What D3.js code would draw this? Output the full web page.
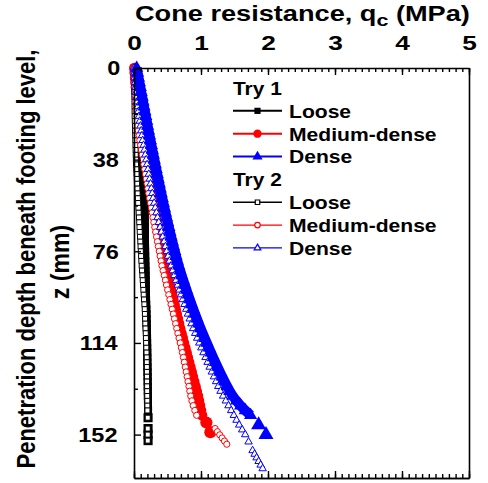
<!DOCTYPE html>
<html>
<head>
<meta charset="utf-8">
<script src="https://cdn.jsdelivr.net/npm/d3@7"></script>
<style>
  body { margin: 0; background: #fff; }
  text { font-family: Arial, "Liberation Sans", sans-serif; font-weight: bold; fill: #000; }
</style>
</head>
<body>
<svg id="chart" width="488" height="483"></svg>
<script>
// penetration depth z (mm), shared grid for the continuous part of every record
const depth = [0,2,4,6,8,10,12,14,16,18,20,22,24,26,28,30,32,34,36,38,40,42,44,46,48,50,
  52,54,56,58,60,62,64,66,68,70,72,74,76,78,80,82,84,86,88,90,92,94,96,98,100,102,104,
  106,108,110,112,114,116,118,120,122,124,126,128,130,132,134,136,138,140,142,144,146,148,150,152];

// cone resistance qc (MPa) read along each record
const try1Loose = [0.01,0.025,0.038,0.05,0.06,0.068,0.075,0.081,0.086,0.091,
  0.095,0.099,0.103,0.106,0.11,0.113,0.117,0.12,0.124,0.128,
  0.131,0.134,0.137,0.14,0.143,0.147,0.15,0.153,0.155,0.157,
  0.158,0.159,0.16,0.161,0.162,0.163,0.164,0.165,0.166,0.167,
  0.168,0.17,0.171,0.173,0.174,0.176,0.177,0.179,0.18,0.182,
  0.184,0.186,0.188,0.19,0.192,0.194,0.195,0.196,0.197,0.198,
  0.199,0.2,0.201,0.202,0.203,0.204,0.205,0.206,0.207,0.208,0.209,0.21];
const try1Medium = [0.005,0.011,0.017,0.023,0.029,0.035,0.044,0.053,0.062,0.071,
  0.08,0.089,0.098,0.107,0.119,0.131,0.143,0.156,0.168,0.181,
  0.193,0.206,0.218,0.23,0.243,0.255,0.268,0.28,0.293,0.306,
  0.319,0.333,0.346,0.36,0.373,0.387,0.4,0.413,0.427,0.44,
  0.454,0.467,0.484,0.501,0.518,0.535,0.552,0.569,0.586,0.603,
  0.62,0.637,0.654,0.671,0.688,0.707,0.726,0.745,0.764,0.783,
  0.802,0.821,0.84,0.859,0.878,0.897,0.916,0.935,0.954,0.969,0.984,0.999,1.014];
const try1Dense = [0.04,0.054,0.067,0.081,0.094,0.108,0.122,0.135,0.149,0.162,
  0.176,0.19,0.203,0.217,0.231,0.246,0.26,0.274,0.289,0.303,
  0.318,0.332,0.347,0.362,0.377,0.392,0.407,0.422,0.438,0.454,
  0.47,0.486,0.503,0.52,0.537,0.554,0.572,0.59,0.608,0.627,
  0.646,0.666,0.688,0.711,0.734,0.758,0.782,0.807,0.832,0.858,
  0.884,0.911,0.938,0.966,0.994,1.024,1.055,1.086,1.117,1.149,
  1.181,1.214,1.247,1.281,1.316,1.352,1.39,1.43,1.475,1.53,1.59,1.66,1.74];
const try2Loose = [0,0.001,0.002,0.003,0.004,0.005,0.006,0.007,0.008,0.009,
  0.01,0.012,0.014,0.016,0.018,0.02,0.022,0.024,0.026,0.028,
  0.03,0.034,0.038,0.042,0.046,0.05,0.054,0.058,0.062,0.066,
  0.07,0.074,0.078,0.082,0.086,0.09,0.094,0.098,0.102,0.106,
  0.11,0.115,0.12,0.125,0.13,0.135,0.14,0.145,0.15,0.155,
  0.16,0.163,0.166,0.169,0.172,0.175,0.178,0.181,0.184,0.187,
  0.19,0.191,0.192,0.193,0.194,0.195,0.196,0.197,0.198,0.199,0.2,0.201];
const try2Medium = [0,0.003,0.006,0.01,0.014,0.018,0.023,0.028,0.033,0.039,
  0.045,0.051,0.058,0.065,0.076,0.087,0.099,0.111,0.123,0.135,
  0.147,0.159,0.171,0.183,0.195,0.207,0.219,0.232,0.246,0.259,
  0.271,0.283,0.296,0.31,0.323,0.337,0.35,0.363,0.377,0.39,
  0.404,0.417,0.434,0.451,0.468,0.485,0.502,0.519,0.536,0.553,
  0.57,0.587,0.604,0.621,0.638,0.655,0.672,0.69,0.707,0.722,
  0.737,0.751,0.765,0.779,0.793,0.806,0.82,0.833,0.847,0.864,0.884,0.908,0.935];
const try2Dense = [0,0.005,0.01,0.016,0.023,0.03,0.038,0.047,0.056,0.065,
  0.075,0.086,0.097,0.108,0.119,0.13,0.143,0.156,0.169,0.182,
  0.195,0.208,0.221,0.234,0.247,0.26,0.272,0.285,0.301,0.318,
  0.335,0.352,0.37,0.39,0.41,0.43,0.45,0.47,0.49,0.51,
  0.53,0.554,0.578,0.602,0.627,0.652,0.677,0.702,0.727,0.753,
  0.779,0.805,0.831,0.857,0.883,0.913,0.943,0.974,1.005,1.036,
  1.067,1.098,1.129,1.161,1.193,1.225,1.258,1.291,1.33,1.37,
  1.41,1.45,1.49,1.53,1.57,1.615,1.66];

// last readings of each record, [z, qc], spaced apart from the main run
const try1LooseTail = [[145,0.21],[149.5,0.21],[152,0.21],[154.5,0.21]];
const try1MediumTail = [[147,1.08],[151,1.14]];
const try1DenseTail = [[148,1.86],[152,1.97]];
const try2LooseTail = [[145,0.205],[149.5,0.205],[152,0.205],[154.5,0.205]];
const try2MediumTail = [[149.5,1.21],[150.8,1.245],[152.1,1.28],[153.4,1.315],[154.7,1.35],[156,1.385]];
const try2DenseTail = [[155,1.71],[158.6,1.77],[160.1,1.8],[161.6,1.83],[163.1,1.86],[164.6,1.89],[166.1,1.92]];

const xTicks = [0, 1, 2, 3, 4, 5];
const yTicks = [0, 38, 76, 114, 152];

const svg = d3.select('#chart');
const x = d3.scaleLinear().domain([0, 5]).range([134, 469]);
const y = d3.scaleLinear().domain([0, 170]).range([68, 478]);

// band = width of the smeared run of overlapping filled markers
const series = [
  { try: 1, label: 'Loose', values: try1Loose, tail: try1LooseTail, color: '#000', shape: d3.symbolSquare, size: 64, filled: true, band: 8 },
  { try: 1, label: 'Medium-dense', values: try1Medium, tail: try1MediumTail, color: '#ff0000', shape: d3.symbolCircle, size: 90, filled: true, band: 9.5 },
  { try: 1, label: 'Dense', values: try1Dense, tail: try1DenseTail, color: '#0000ff', shape: d3.symbolTriangle, size: 75, filled: true, band: 10 },
  { try: 2, label: 'Loose', values: try2Loose, tail: try2LooseTail, color: '#000', shape: d3.symbolSquare, size: 25, filled: false, band: 0 },
  { try: 2, label: 'Medium-dense', values: try2Medium, tail: try2MediumTail, color: '#ff0000', shape: d3.symbolCircle, size: 30, filled: false, band: 0 },
  { try: 2, label: 'Dense', values: try2Dense, tail: try2DenseTail, color: '#0000ff', shape: d3.symbolTriangle, size: 24, filled: false, band: 0 },
];
// drawing order in the plot: Try 1 dense sits on top of the open markers
const drawOrder = [0, 1, 3, 4, 5, 2];

function stretchX(sel, sx) {
  sel.attr('transform', function () {
    const prev = d3.select(this).attr('transform') || '';
    return `${prev} scale(${sx},1)`;
  });
}

// ---- data marks
const line = d3.line().x((d) => x(d[1])).y((d) => y(d[0])).curve(d3.curveMonotoneY);
const plot = svg.append('g').attr('class', 'plot');
drawOrder.map((k) => series[k]).forEach((s) => {
  const pts = s.values.map((v, i) => [depth[i], v]);
  const g = plot.append('g');
  if (s.band) {
    g.append('path')
      .attr('d', line(pts))
      .attr('fill', 'none')
      .attr('stroke', s.color)
      .attr('stroke-width', s.band);
  }
  g.selectAll('path.main')
    .data(pts)
    .join('path')
    .attr('class', 'main')
    .attr('transform', (d) => `translate(${x(d[1])},${y(d[0])})`)
    .attr('d', d3.symbol(s.shape, s.size))
    .attr('fill', s.filled ? s.color : '#fff')
    .attr('stroke', s.filled ? 'none' : s.color)
    .attr('stroke-width', 1);
  g.selectAll('path.tail')
    .data(s.tail)
    .join('path')
    .attr('class', 'tail')
    .attr('transform', (d) => `translate(${x(d[1])},${y(d[0])})`)
    .attr('d', d3.symbol(s.shape, s.filled ? s.size * 1.3 : s.size))
    .attr('fill', s.filled ? s.color : '#fff')
    .attr('stroke', s.filled ? 'none' : s.color)
    .attr('stroke-width', 1);
});

// ---- axes (ticks pointing inwards, as in the original frame)
function styleAxis(g) {
  g.selectAll('path.domain').attr('stroke', '#000').attr('stroke-width', 1.6);
  g.selectAll('.tick line').attr('stroke', '#000').attr('stroke-width', 1.4);
}
const minorX = d3.range(0, 51).map((d) => d / 10);
const minorY = [19, 57, 95, 133];

const topMinorAxis = svg.append('g').attr('transform', `translate(0,${y(0)})`)
  .call(d3.axisTop(x).tickValues(minorX).tickSize(-4).tickSizeOuter(0).tickFormat(''));
styleAxis(topMinorAxis);
const topMajorAxis = svg.append('g').attr('transform', `translate(0,${y(0)})`)
  .call(d3.axisTop(x).tickValues(xTicks).tickSize(-7).tickSizeOuter(0).tickPadding(18).tickFormat(d3.format('d')));
styleAxis(topMajorAxis);
topMajorAxis.select('path.domain').remove();
topMajorAxis.selectAll('text').attr('font-size', 21).attr('fill', '#000');
stretchX(topMajorAxis.selectAll('text'), 1.25);

const bottomMinorAxis = svg.append('g').attr('transform', `translate(0,${y(170)})`)
  .call(d3.axisBottom(x).tickValues(minorX).tickSize(-4).tickSizeOuter(0).tickFormat(''));
styleAxis(bottomMinorAxis);
const bottomMajorAxis = svg.append('g').attr('transform', `translate(0,${y(170)})`)
  .call(d3.axisBottom(x).tickValues(xTicks).tickSize(-7).tickSizeOuter(0).tickFormat(''));
styleAxis(bottomMajorAxis);

const leftMinorAxis = svg.append('g').attr('transform', `translate(${x(0)},0)`)
  .call(d3.axisLeft(y).tickValues(minorY).tickSize(-4).tickSizeOuter(0).tickFormat(''));
styleAxis(leftMinorAxis);
const leftMajorAxis = svg.append('g').attr('transform', `translate(${x(0)},0)`)
  .call(d3.axisLeft(y).tickValues(yTicks).tickSize(-7).tickSizeOuter(0).tickPadding(11).tickFormat(d3.format('d')));
styleAxis(leftMajorAxis);
leftMajorAxis.select('path.domain').remove();
leftMajorAxis.selectAll('text').attr('font-size', 21).attr('fill', '#000');
leftMajorAxis.selectAll('text').attr('transform', function () {
  return `translate(${-this.getBBox().width * 0.12},0) scale(1.12,1)`;
});

const rightAxis = svg.append('g').attr('transform', `translate(${x(5)},0)`)
  .call(d3.axisRight(y).tickValues([]).tickSizeOuter(0));
styleAxis(rightAxis);

// ---- axis titles
const title = svg.append('text')
  .attr('x', 0).attr('y', 0)
  .attr('font-size', 21.5);
title.append('tspan').text('Cone resistance, q');
title.append('tspan').attr('font-size', 17).attr('dy', 5).text('c');
title.append('tspan').attr('dy', -5).text(' (MPa)');
const titleW = title.node().getBBox().width;
title.attr('transform', `translate(135,21) scale(${335 / titleW},1)`);

svg.append('text')
  .attr('transform', 'translate(35,259) rotate(-90) scale(1,1.15)')
  .attr('text-anchor', 'middle')
  .attr('font-size', 22)
  .text('Penetration depth beneath footing level,');
svg.append('text')
  .attr('transform', 'translate(69,262) rotate(-90) scale(1.05,1.15)')
  .attr('text-anchor', 'middle')
  .attr('font-size', 22)
  .text('z (mm)');

// ---- legend
const legendRows = ['Try 1', ...series.filter((s) => s.try === 1), 'Try 2', ...series.filter((s) => s.try === 2)];
const legend = svg.append('g').attr('class', 'legend');
const rowY = (i) => 88 + i * 22.85;
legendRows.forEach((row, i) => {
  const g = legend.append('g').attr('transform', `translate(0,${rowY(i)})`);
  if (typeof row === 'string') {
    const t = g.append('text').attr('font-size', 19).attr('dy', '0.36em').text(row);
    t.attr('transform', 'translate(233,0) scale(1.1,1)');
    return;
  }
  g.append('line')
    .attr('x1', 233).attr('x2', 282)
    .attr('stroke', row.color)
    .attr('stroke-width', row.filled ? 2 : 1.3);
  g.append('path')
    .attr('transform', 'translate(257.5,0)')
    .attr('d', d3.symbol(row.shape, row.filled ? row.size * 0.6 : row.size * 0.8))
    .attr('fill', row.filled ? row.color : '#fff')
    .attr('stroke', row.filled ? 'none' : row.color)
    .attr('stroke-width', 1.2);
  g.append('text')
    .attr('font-size', 19).attr('dy', '0.36em')
    .attr('transform', 'translate(289,0) scale(1.11,1)')
    .text(row.label);
});
</script>
</body>
</html>
